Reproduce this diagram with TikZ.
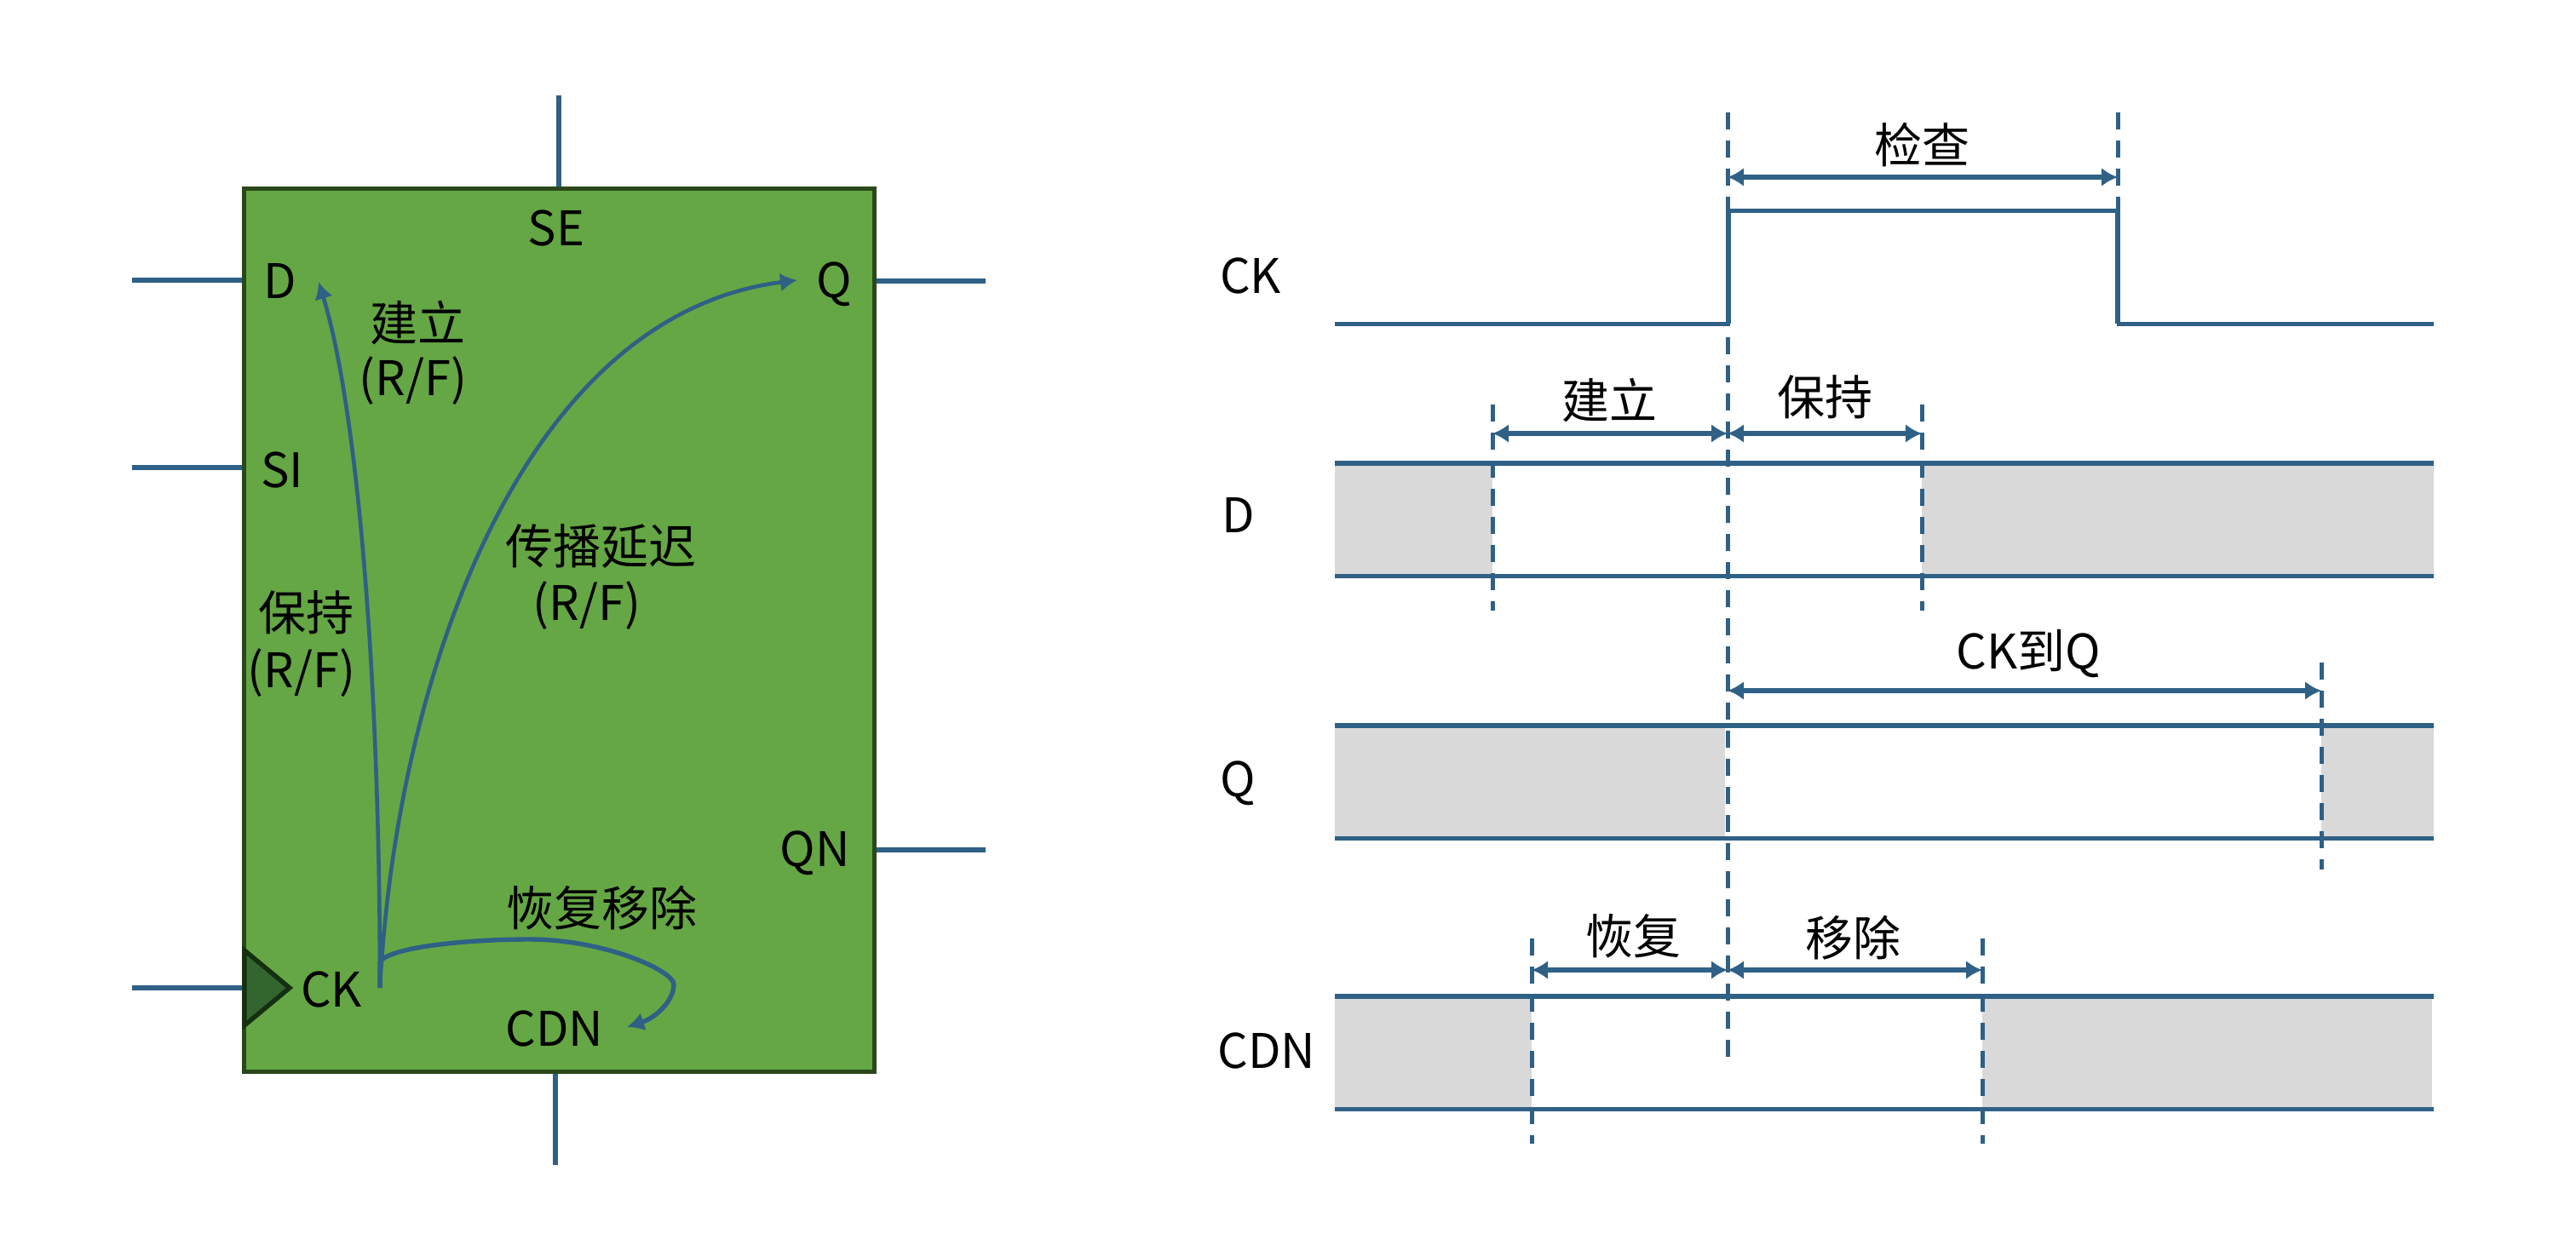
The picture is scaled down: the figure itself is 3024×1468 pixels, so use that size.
\documentclass[tikz,border=0pt]{standalone}
\usepackage{fontspec}
\setmainfont{Noto Sans CJK SC}
\usepackage{tikz}
\usetikzlibrary{arrows.meta}
\definecolor{wirecol}{RGB}{47,96,134}
\definecolor{ffgreen}{RGB}{101,167,68}
\definecolor{ffedge}{RGB}{42,72,26}
\definecolor{ckgreen}{RGB}{51,102,46}
\definecolor{ckedge}{RGB}{20,48,16}
\definecolor{bandgray}{RGB}{217,217,217}
\tikzset{
  flipflop/.style={rectangle, minimum width=370pt, minimum height=518.5pt, inner sep=0pt, draw=ffedge, fill=ffgreen, line width=2.5pt},
  lbl/.style={inner sep=0pt, font=\fontsize{28}{33}\selectfont},
  wire/.style={draw=wirecol, line width=2.6pt},
  level/.style={draw=wirecol, line width=2.7pt},
  edgeline/.style={draw=wirecol, line width=2.7pt},
  mark line/.style={draw=wirecol, line width=2.5pt, dash pattern=on 10pt off 6.5pt},
  span/.style={draw=wirecol, line width=2.6pt, {Latex[length=9.5pt,width=11pt]}-{Latex[length=9.5pt,width=11pt]}},
  path arrow/.style={draw=wirecol, line width=2.3pt, -{Latex[length=10pt,width=11pt]}},
  band/.style={fill=bandgray}
}
\begin{document}
\begin{tikzpicture}[x=0.5pt, y=-0.5pt]
  \useasboundingbox (0,0) rectangle (3024,1468);

  % left block
  \node (ff) [flipflop] at (656.5,740) {};
  \coordinate (seTop) at (656,112);
  \coordinate (cdnBot) at (652,1368);
  \coordinate (dEnd) at (155,329);
  \coordinate (siEnd) at (155,549);
  \coordinate (ckEnd) at (155,1160);
  \coordinate (qEnd) at (1157,330);
  \coordinate (qnEnd) at (1157,998);
  \draw [wire] (seTop) -- (seTop |- ff.north);
  \draw [wire] (cdnBot) -- (cdnBot |- ff.south);
  \draw [wire] (dEnd) -- (dEnd -| ff.west);
  \draw [wire] (siEnd) -- (siEnd -| ff.west);
  \draw [wire] (ckEnd) -- (ckEnd -| ff.west);
  \draw [wire] (qEnd) -- (qEnd -| ff.east);
  \draw [wire] (qnEnd) -- (qnEnd -| ff.east);
  \draw [draw=ckedge, fill=ckgreen, line width=2.7pt, line join=miter] (287,1116) -- (340,1160) -- (287,1204) -- cycle;

  \node (seLbl) [lbl] at (653,268) {SE};
  \node (dLbl) [lbl] at (329,330) {D};
  \node (qLbl) [lbl] at (979,334) {Q};
  \node (siLbl) [lbl] at (331,552) {SI};
  \node (ckLbl) [lbl] at (389,1162) {CK};
  \node (cdnLbl) [lbl] at (651,1208) {CDN};
  \node (qnLbl) [lbl] at (957,1002) {QN};
  \node (setupLbl) [lbl] at (490,379) {建立};
  \node (setupRf) [lbl] at (485,447) {(R/F)};
  \node (holdLbl) [lbl] at (359,719) {保持};
  \node (holdRf) [lbl] at (354,790) {(R/F)};
  \node (delayLbl) [lbl] at (705,641) {传播延迟};
  \node (delayRf) [lbl] at (689,711) {(R/F)};
  \node (recLbl) [lbl] at (706,1066) {恢复移除};

  % timing arcs from CK
  \coordinate (ckPin) at (446,1160);
  \coordinate (dTip) at (374,331);
  \coordinate (qTip) at (936,329);
  \coordinate (cdnTip) at (736,1206);
  \draw [path arrow] (ckPin) .. controls (446,800) and (420,480) .. (dTip);
  \draw [path arrow] (ckPin) .. controls (465,800) and (610,370) .. (qTip);
  \draw [path arrow, line width=2.7pt] (ckPin) -- (446,1130) .. controls (455,1112) and (550,1103) .. (621,1103) .. controls (710,1103) and (791,1140) .. (791,1156) .. controls (791,1175) and (770,1195) .. (cdnTip);

  % waveforms
  \coordinate (clkRise) at (2029,380);
  \coordinate (clkFall) at (2486,380);
  \fill [band] (1567,544) rectangle (1752,676);
  \fill [band] (2256,544) rectangle (2857,676);
  \fill [band] (1567,852) rectangle (2025,984);
  \fill [band] (2725,852) rectangle (2857,984);
  \fill [band] (1567,1170) rectangle (1798,1302);
  \fill [band] (2327,1170) rectangle (2855,1302);

  \draw [level] (1567,380.5) -- (2030,380.5);
  \draw [edgeline] (clkRise) -- (2029,247.5) -- (2486,247.5) -- (clkFall);
  \draw [level] (2485,380.5) -- (2857,380.5);
  \draw [level] (1567,544) -- (2857,544);
  \draw [level] (1567,676.5) -- (2857,676.5);
  \draw [level] (1567,852) -- (2857,852);
  \draw [level] (1567,984.5) -- (2857,984.5);
  \draw [level] (1567,1170) -- (2857,1170);
  \draw [level] (1567,1302.5) -- (2857,1302.5);

  % reference lines
  \coordinate (mainTop) at (2028,132);
  \coordinate (mainBot) at (2028,1244);
  \coordinate (chkTop) at (2486,132);
  \coordinate (chkBot) at (2486,248);
  \coordinate (setTop) at (1752,475);
  \coordinate (setBot) at (1752,717);
  \coordinate (hldTop) at (2256,475);
  \coordinate (hldBot) at (2256,717);
  \coordinate (dlyTop) at (2725,778);
  \coordinate (dlyBot) at (2725,1021);
  \coordinate (rcvTop) at (1798,1102);
  \coordinate (rcvBot) at (1798,1343);
  \coordinate (rmvTop) at (2327,1102);
  \coordinate (rmvBot) at (2327,1343);
  \draw [mark line] (mainTop) -- (mainBot);
  \draw [mark line] (chkTop) -- (chkBot);
  \draw [mark line] (setTop) -- (setBot);
  \draw [mark line] (hldTop) -- (hldBot);
  \draw [mark line] (dlyTop) -- (dlyBot);
  \draw [mark line] (rcvTop) -- (rcvBot);
  \draw [mark line] (rmvTop) -- (rmvBot);

  % spans
  \draw [span] (mainTop |- 0,208) -- (chkTop |- 0,208);
  \draw [span] (setTop |- 0,509) -- (mainTop |- 0,509);
  \draw [span] (mainTop |- 0,509) -- (hldTop |- 0,509);
  \draw [span] (mainTop |- 0,811) -- (dlyTop |- 0,811);
  \draw [span] (rcvTop |- 0,1139) -- (mainTop |- 0,1139);
  \draw [span] (mainTop |- 0,1139) -- (rmvTop |- 0,1139);

  \node (ckRow) [lbl] at (1468,324) {CK};
  \node (dRow) [lbl] at (1454,605) {D};
  \node (qRow) [lbl] at (1453,920) {Q};
  \node (cdnRow) [lbl] at (1487,1234) {CDN};
  \node (chkLbl) [lbl] at (2256,170) {检查};
  \node (setLbl) [lbl] at (1889,470) {建立};
  \node (hldLbl) [lbl] at (2142,466) {保持};
  \node (dlyLbl) [lbl] at (2381,768) {CK到Q};
  \node (rcvLbl) [lbl] at (1917,1099) {恢复};
  \node (rmvLbl) [lbl] at (2175,1101) {移除};
\end{tikzpicture}
\end{document}
